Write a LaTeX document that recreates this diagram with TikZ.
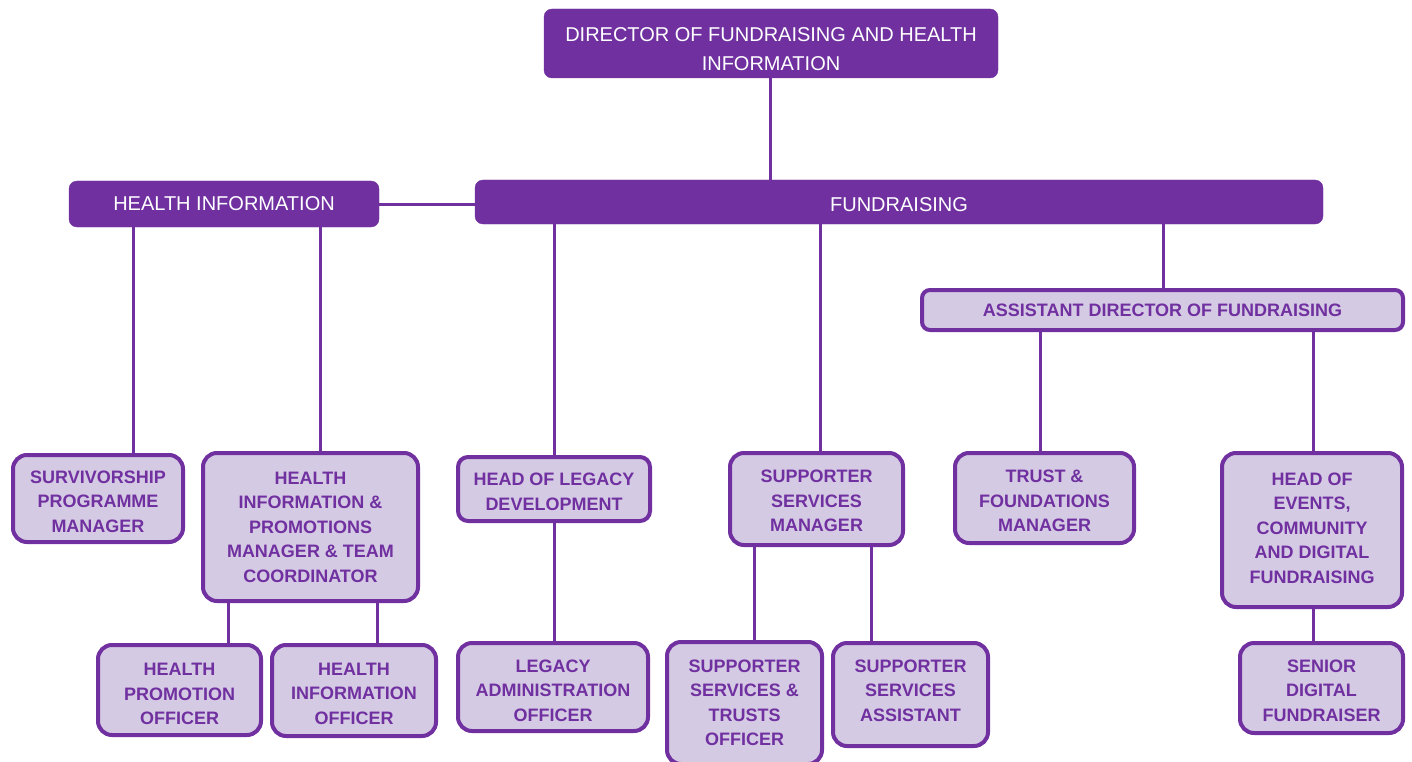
\documentclass[tikz,border=0pt]{standalone}
\usepackage{fontspec}
\setmainfont{Liberation Sans}

\definecolor{orgpurple}{RGB}{112,48,160}
\definecolor{orglilac}{RGB}{213,202,228}

\begin{document}
\begin{tikzpicture}[
  x = 1pt, y = -1pt,
  head/.style = {fill = orgpurple, draw = orgpurple, rounded corners = 8pt,
                 text = white, font = \fontsize{20}{29}\selectfont, align = center},
  role/.style = {fill = orglilac, draw = orgpurple, line width = 4pt, rounded corners = 14pt,
                 text = orgpurple, font = \bfseries\fontsize{18}{24.5}\selectfont, align = center,
                 inner sep = 0pt},
  % a strut taller than the text block pushes the lines down a little
  drop/.style = {execute at begin node = {\rule{0pt}{#1}}},
  lift/.style = {execute at end node = {\rule[-#1]{0pt}{0pt}}},
  link/.style = {draw = orgpurple, line width = 3pt},
  ]
  \useasboundingbox (0,0) rectangle (1412,762);

  % top level
  \node[head, drop = 53.5pt, minimum width = 454pt, minimum height = 69pt] (dir) at (771,43.5)
    {DIRECTOR OF FUNDRAISING AND HEALTH\\INFORMATION};
  \node[head, minimum width = 310pt, minimum height = 46pt] (hi) at (224,204) {HEALTH INFORMATION};
  \node[head, drop = 20pt, minimum width = 848pt, minimum height = 44pt] (fund) at (899,202) {FUNDRAISING};
  \node[role, rounded corners = 8pt, minimum width = 481pt, minimum height = 40pt] (asst) at (1162.5,310)
    {ASSISTANT DIRECTOR OF FUNDRAISING};

  % managers
  \node[role, drop = 68pt, minimum width = 170pt, minimum height = 87pt] (surv) at (98,498.5)
    {SURVIVORSHIP\\PROGRAMME\\MANAGER};
  \node[role, minimum width = 215pt, minimum height = 148pt] (hipm) at (310.5,527)
    {HEALTH\\INFORMATION \&\\PROMOTIONS\\MANAGER \& TEAM\\COORDINATOR};
  \node[role, drop = 42.5pt, rounded corners = 10pt, minimum width = 192pt, minimum height = 64pt] (legacy) at (554,489)
    {HEAD OF LEGACY\\DEVELOPMENT};
  \node[role, drop = 66pt, minimum width = 173pt, minimum height = 92pt] (ssm) at (816.5,499)
    {SUPPORTER\\SERVICES\\MANAGER};
  \node[role, drop = 68pt, minimum width = 179pt, minimum height = 90pt] (trust) at (1044.5,498)
    {TRUST \&\\FOUNDATIONS\\MANAGER};
  \node[role, lift = 4pt, minimum width = 180pt, minimum height = 154pt] (events) at (1312,530)
    {HEAD OF\\EVENTS,\\COMMUNITY\\AND DIGITAL\\FUNDRAISING};

  % officers
  \node[role, drop = 70pt, minimum width = 163pt, minimum height = 90pt] (hpo) at (179.5,690)
    {HEALTH\\PROMOTION\\OFFICER};
  \node[role, drop = 68pt, minimum width = 164pt, minimum height = 91pt] (hio) at (354,690.5)
    {HEALTH\\INFORMATION\\OFFICER};
  \node[role, drop = 69pt, minimum width = 190pt, minimum height = 88pt] (lao) at (553,687)
    {LEGACY\\ADMINISTRATION\\OFFICER};
  \node[role, minimum width = 155pt, minimum height = 122pt] (ssto) at (744.5,703)
    {SUPPORTER\\SERVICES \&\\TRUSTS\\OFFICER};
  \node[role, lift = 8pt, minimum width = 155pt, minimum height = 103pt] (ssa) at (910.5,694.5)
    {SUPPORTER\\SERVICES\\ASSISTANT};
  \node[role, drop = 67pt, minimum width = 163pt, minimum height = 90pt] (sdf) at (1321.5,688)
    {SENIOR\\DIGITAL\\FUNDRAISER};

  % reporting lines
  \draw[link] (dir.south -| 770,0) -- (fund.north -| 770,0);
  \draw[link] (hi.east) -- (hi.east -| fund.west);
  \draw[link] (hi.south -| 133,0) -- (surv.north -| 133,0);
  \draw[link] (hi.south -| 320,0) -- (hipm.north -| 320,0);
  \draw[link] (fund.south -| legacy.north) -- (legacy.north);
  \draw[link] (fund.south -| 820,0) -- (ssm.north -| 820,0);
  \draw[link] (fund.south -| 1163,0) -- (asst.north -| 1163,0);
  \draw[link] (asst.south -| 1040,0) -- (trust.north -| 1040,0);
  \draw[link] (asst.south -| 1313,0) -- (events.north -| 1313,0);
  \draw[link] (hipm.south -| 228,0) -- (hpo.north -| 228,0);
  \draw[link] (hipm.south -| 377,0) -- (hio.north -| 377,0);
  \draw[link] (legacy.south) -- (legacy.south |- lao.north);
  \draw[link] (ssm.south -| 754,0) -- (ssto.north -| 754,0);
  \draw[link] (ssm.south -| 871,0) -- (ssa.north -| 871,0);
  \draw[link] (events.south -| 1313,0) -- (sdf.north -| 1313,0);
\end{tikzpicture}
\end{document}
